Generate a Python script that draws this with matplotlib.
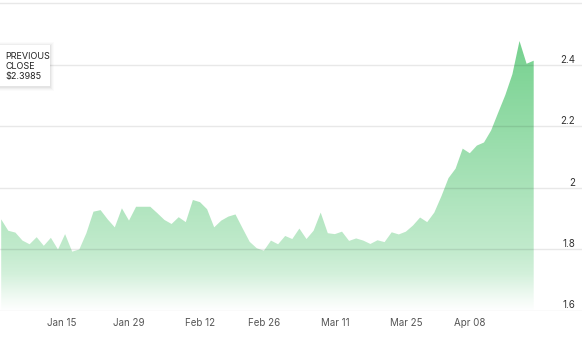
import matplotlib
matplotlib.use("Agg")
import matplotlib.pyplot as plt
import numpy as np
from matplotlib.patches import Polygon, FancyBboxPatch

# ---- data ----
prices = [1.898, 1.861, 1.855, 1.829, 1.817, 1.840, 1.812, 1.838, 1.800, 1.850,
          1.793, 1.800, 1.853, 1.923, 1.928, 1.898, 1.872, 1.934, 1.894, 1.939,
          1.939, 1.939, 1.918, 1.896, 1.883, 1.905, 1.889, 1.961, 1.954, 1.931,
          1.872, 1.894, 1.907, 1.914, 1.869, 1.825, 1.804, 1.796, 1.829, 1.817,
          1.844, 1.834, 1.868, 1.834, 1.861, 1.920, 1.853, 1.850, 1.858, 1.828,
          1.836, 1.829, 1.818, 1.830, 1.824, 1.856, 1.849, 1.858, 1.878, 1.904,
          1.889, 1.920, 1.973, 2.032, 2.063, 2.128, 2.113, 2.138, 2.148, 2.187,
          2.245, 2.302, 2.370, 2.478, 2.404, 2.414]
xtick_pos = [8.5, 18, 28, 37, 47, 57, 66]
xtick_labels = ["Jan 15", "Jan 29", "Feb 12", "Feb 26", "Mar 11", "Mar 25", "Apr 08"]
ytick_vals = [1.6, 1.8, 2.0, 2.2, 2.4]
ytick_labels = ["1.6", "1.8", "2", "2.2", "2.4"]
grid_vals = [1.6, 1.8, 2.0, 2.2, 2.4, 2.6]
prev_close = "$2.3985"

W, H = 582, 358
fig = plt.figure(figsize=(W / 100, H / 100), dpi=100)
ax = fig.add_axes([0, (H - 311) / H, 1, 311 / H])

x = np.arange(len(prices))
y = np.array(prices)
xmin, xmax = -1.2 / 7.1, (W - 1.2) / 7.1
ymin, ymax = 1.6, 1.6 + 311 / 307.5
ax.set_xlim(xmin, xmax)
ax.set_ylim(ymin, ymax)
ax.axis("off")

for g in grid_vals:
    ax.axhline(g, color=(0, 0, 0, 0.09), lw=1.0, zorder=3)

# gradient fill
top = y.max()
ny = 400
yy = np.linspace(ymin, top, ny)
alpha = np.interp(yy, [1.6, 1.65, 1.72, 1.8, 2.0, top], [0.0, 0.12, 0.32, 0.45, 0.62, 1.0])
base = np.array([0.46, 0.82, 0.56])
img = np.ones((ny, 2, 4))
img[:, :, :3] = base
img[:, :, 3] = alpha[:, None]
im = ax.imshow(img, extent=[x[0], x[-1], ymin, top], origin="lower",
               aspect="auto", zorder=2, interpolation="bilinear")
poly_pts = np.vstack([[x[0], ymin], np.column_stack([x, y]), [x[-1], ymin]])
poly = Polygon(poly_pts, closed=True, facecolor="none", edgecolor="none")
ax.add_patch(poly)
im.set_clip_path(poly)

# x tick labels
for p, lab in zip(xtick_pos, xtick_labels):
    ax.text(p, ymin - 12 * 0.2 / 61.5, lab, ha="center", va="center",
            fontsize=7, color="#555555", family="Inter", clip_on=False)

# y tick labels
for v, lab in zip(ytick_vals, ytick_labels):
    fig.text(575 / W, 1 - (311 - (v - 1.6) * 307.5 - 5.5) / H, lab,
             ha="right", va="center", fontsize=7, color="#333333", family="Inter")

# previous close tooltip
for i, a in enumerate([0.04, 0.03, 0.02, 0.015]):
    sh = FancyBboxPatch(((-2 - i) / W, 1 - (87 + i + 1) / H), (53 + 2 * i) / W, (43 + 2 * i) / H,
                        boxstyle="square,pad=0", transform=fig.transFigure,
                        facecolor="black", edgecolor="none", alpha=a, zorder=5)
    fig.patches.append(sh)
box = FancyBboxPatch((-1 / W, 1 - 86 / H), 51 / W, 41 / H, boxstyle="square,pad=0",
                     transform=fig.transFigure, facecolor="white", edgecolor="none", zorder=6)
fig.patches.append(box)
fig.text(5 / W, 1 - 66.5 / H, "PREVIOUS\nCLOSE\n" + prev_close, ha="left", va="center",
         fontsize=6.5, color="#222222", family="Inter", linespacing=1.2, zorder=7)

fig.savefig("out.png", dpi=100)
